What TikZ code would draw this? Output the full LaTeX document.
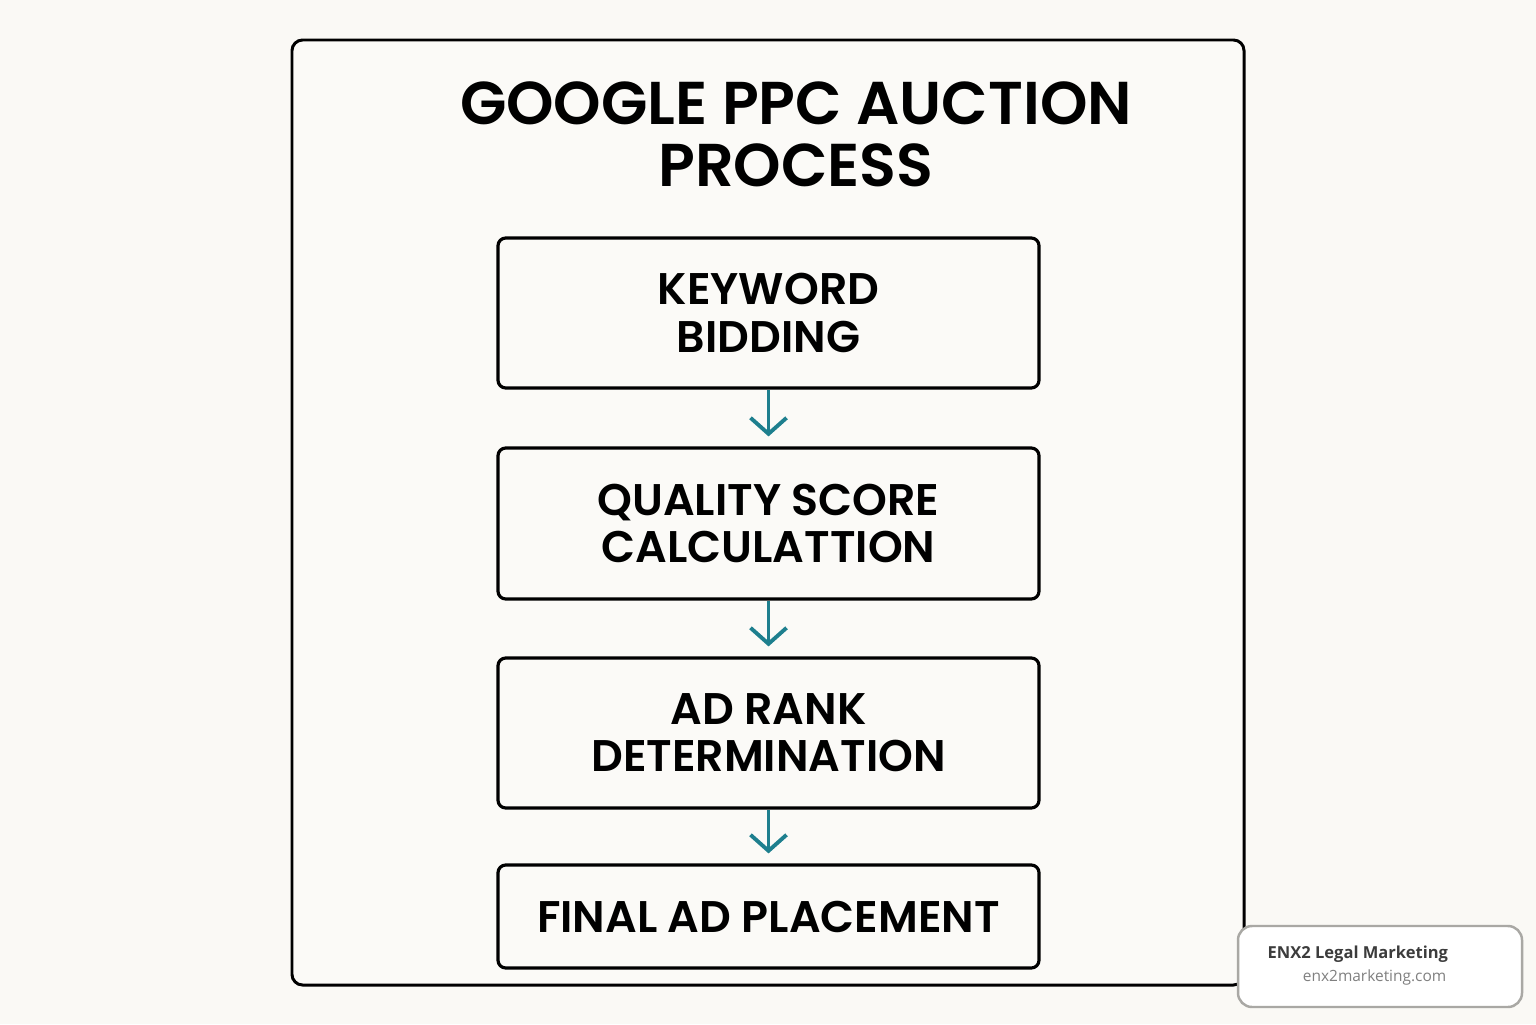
\documentclass[tikz,border=0pt]{standalone}
\usepackage{fontspec}
\setmainfont{Poppins}[BoldFont={Poppins SemiBold}]
\newfontfamily\markfont{Open Sans}
\usetikzlibrary{arrows.meta, positioning}

\definecolor{paper}{HTML}{FAF9F5}
\definecolor{boxfill}{HTML}{FBFAF7}
\definecolor{flowteal}{HTML}{1E7F8E}
\definecolor{markgray}{HTML}{A9A8A4}
\definecolor{marktext}{HTML}{3C3C3C}

\tikzset{
  stepbox/.style={draw=black, line width=0.9pt, rounded corners=2.2pt, fill=boxfill,
    minimum width=5.41cm, align=center, font=\bfseries\fontsize{12.6}{13.4}\selectfont},
  flowarrow/.style={draw=flowteal, line width=1.1pt, shorten >=0.1cm,
    -{Straight Barb[length=0.16cm, width=0.36cm, line width=1.1pt]}},
}

\begin{document}
\begin{tikzpicture}
  \useasboundingbox[fill=paper] (0,0) rectangle (15.36,10.24);

  % outer frame
  \draw[line width=0.85pt, rounded corners=3pt, fill=boxfill] (2.92,9.84) rectangle (12.44,0.39);

  % title
  \node (title) at (7.96,8.90) [align=center, font=\bfseries\fontsize{17.2}{17.6}\selectfont]
    {GOOGLE PPC AUCTION\\PROCESS};

  % steps
  \node[stepbox, minimum height=1.5cm]  (keyword) at (7.685,7.11)  {KEYWORD\\BIDDING};
  \node[stepbox, minimum height=1.51cm] (quality) at (7.685,5.005) {QUALITY SCORE\\CALCULATTION};
  \node[stepbox, minimum height=1.5cm]  (adrank)  at (7.685,2.91)  {AD RANK\\DETERMINATION};
  \node[stepbox, minimum height=1.03cm] (final)   at (7.685,1.075) {FINAL AD PLACEMENT};

  \draw[flowarrow] (keyword) -- (quality);
  \draw[flowarrow] (quality) -- (adrank);
  \draw[flowarrow] (adrank) -- (final);

  % watermark
  \node (mark) at (13.80,0.575) [draw=markgray, line width=0.7pt, rounded corners=4pt, fill=white,
    minimum width=2.84cm, minimum height=0.81cm] {};
  \node (markname) at (12.67,0.70) [anchor=west, inner sep=0pt, text=marktext,
    font=\markfont\bfseries\fontsize{4.7}{6}\selectfont] {ENX2 Legal Marketing};
  \node (markurl) at (14.47,0.47) [anchor=east, inner sep=0pt, text=gray,
    font=\markfont\fontsize{4.4}{6}\selectfont] {enx2marketing.com};
\end{tikzpicture}
\end{document}
